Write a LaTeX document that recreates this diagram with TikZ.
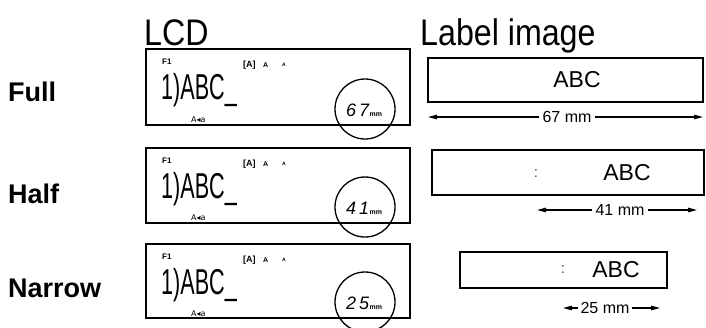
\documentclass[tikz,border=0pt]{standalone}
\usepackage{fontspec}
\setmainfont{Liberation Sans}
\newfontfamily\symfont{DejaVu Sans}
\usetikzlibrary{arrows.meta}

\newcommand\squeeze[2]{\scalebox{#1}[1]{#2}}

\tikzset{
  title/.style={anchor=base west, inner sep=0pt, font=\fontsize{37}{37}\selectfont},
  rowname/.style={anchor=west, inner sep=0pt, font=\fontsize{27}{27}\selectfont\bfseries},
  lcd/.style={line width=2.2pt},
  small/.style={anchor=base west, inner sep=0pt},
  bigtext/.style={anchor=base west, inner sep=0pt, font=\fontsize{36}{36}\selectfont},
  mode/.style={anchor=base west, inner sep=0pt, font=\symfont\fontsize{8}{8}\selectfont},
  ring/.style={line width=1.3pt},
  digits/.style={anchor=base west, inner sep=0pt, font=\fontsize{18}{18}\selectfont\itshape},
  unit/.style={anchor=base west, inner sep=0pt, font=\fontsize{7}{7}\selectfont\bfseries},
  tape/.style={line width=1.5pt},
  abc/.style={inner sep=0pt, font=\fontsize{23}{23}\selectfont},
  dot/.style={inner sep=0pt, text=black!70, font=\fontsize{15}{15}\selectfont},
  dimtext/.style={inner sep=3pt, font=\fontsize{16}{16}\selectfont},
  dim/.style={line width=1.2pt, -{Triangle[length=9pt,width=4.5pt]}}
}

\begin{document}
\begin{tikzpicture}[x=1pt,y=-1pt]
\useasboundingbox (0,0) rectangle (706,327);

\node[title] (lcdtitle) at (144,45) {\squeeze{0.87}{LCD}};
\node[title] (labeltitle) at (420,45) {\squeeze{0.87}{Label image}};

\node[rowname] (full) at (8,92) {Full};
\node[rowname] (half) at (8,194) {Half};
\node[rowname] (narrow) at (8,288) {Narrow};

\draw[lcd] (146,49) rectangle (410,125);
\node[small, font=\fontsize{8}{8}\selectfont\bfseries] (fA) at (162,64) {F1};
\node[small, font=\fontsize{9}{9}\selectfont\bfseries] (capsA) at (243,67) {[A]};
\node[small, font=\fontsize{7}{7}\selectfont\bfseries] (szA) at (263,67) {A};
\node[small, font=\fontsize{5}{5}\selectfont\bfseries] (szsA) at (282,66) {A};
\node[bigtext] (textA) at (161,99) {\squeeze{0.6}{1)ABC\_}};
\node[mode] (modeA) at (191,122) {A◂a};
\draw[ring] (365,109) circle (30);
\node[digits] (lenA) at (346,116) {6\,7};
\node[unit] (mmA) at (lenA.base east) {mm};

\draw[lcd] (146,148) rectangle (410,223);
\node[small, font=\fontsize{8}{8}\selectfont\bfseries] (fB) at (162,163) {F1};
\node[small, font=\fontsize{9}{9}\selectfont\bfseries] (capsB) at (243,166) {[A]};
\node[small, font=\fontsize{7}{7}\selectfont\bfseries] (szB) at (263,166) {A};
\node[small, font=\fontsize{5}{5}\selectfont\bfseries] (szsB) at (282,165) {A};
\node[bigtext] (textB) at (161,198) {\squeeze{0.6}{1)ABC\_}};
\node[mode] (modeB) at (191,220) {A◂a};
\draw[ring] (365,207) circle (30);
\node[digits] (lenB) at (346,214) {4\,1};
\node[unit] (mmB) at (lenB.base east) {mm};

\draw[lcd] (146,244) rectangle (410,318);
\node[small, font=\fontsize{8}{8}\selectfont\bfseries] (fC) at (162,259) {F1};
\node[small, font=\fontsize{9}{9}\selectfont\bfseries] (capsC) at (243,262) {[A]};
\node[small, font=\fontsize{7}{7}\selectfont\bfseries] (szC) at (263,262) {A};
\node[small, font=\fontsize{5}{5}\selectfont\bfseries] (szsC) at (282,261) {A};
\node[bigtext] (textC) at (161,294) {\squeeze{0.6}{1)ABC\_}};
\node[mode] (modeC) at (191,316) {A◂a};
\draw[ring] (365,302) circle (30);
\node[digits] (lenC) at (346,309) {2\,5};
\node[unit] (mmC) at (lenC.base east) {mm};

\draw[tape] (428,58) rectangle (703,102);
\node[abc] (abcA) at (577,80) {ABC};
\node[dimtext] (dimA) at (567,117) {67 mm};
\coordinate (dimAl) at (428,117);
\coordinate (dimAr) at (703,117);
\draw[dim] (dimA) -- (dimAl);
\draw[dim] (dimA) -- (dimAr);

\draw[tape] (432,150) rectangle (704,195);
\node[dot] (dotB) at (536,174) {:};
\node[abc] (abcB) at (627,173) {ABC};
\node[dimtext] (dimB) at (620,210) {41 mm};
\coordinate (dimBl) at (537,210);
\coordinate (dimBr) at (697,210);
\draw[dim] (dimB) -- (dimBl);
\draw[dim] (dimB) -- (dimBr);

\draw[tape] (460,252) rectangle (667,288);
\node[dot] (dotC) at (563,270) {:};
\node[abc] (abcC) at (616,270) {ABC};
\node[dimtext, inner sep=2pt] (dimC) at (605,308) {25 mm};
\coordinate (dimCl) at (563,308);
\coordinate (dimCr) at (660,308);
\draw[dim] (dimC) -- (dimCl);
\draw[dim] (dimC) -- (dimCr);

\end{tikzpicture}
\end{document}
